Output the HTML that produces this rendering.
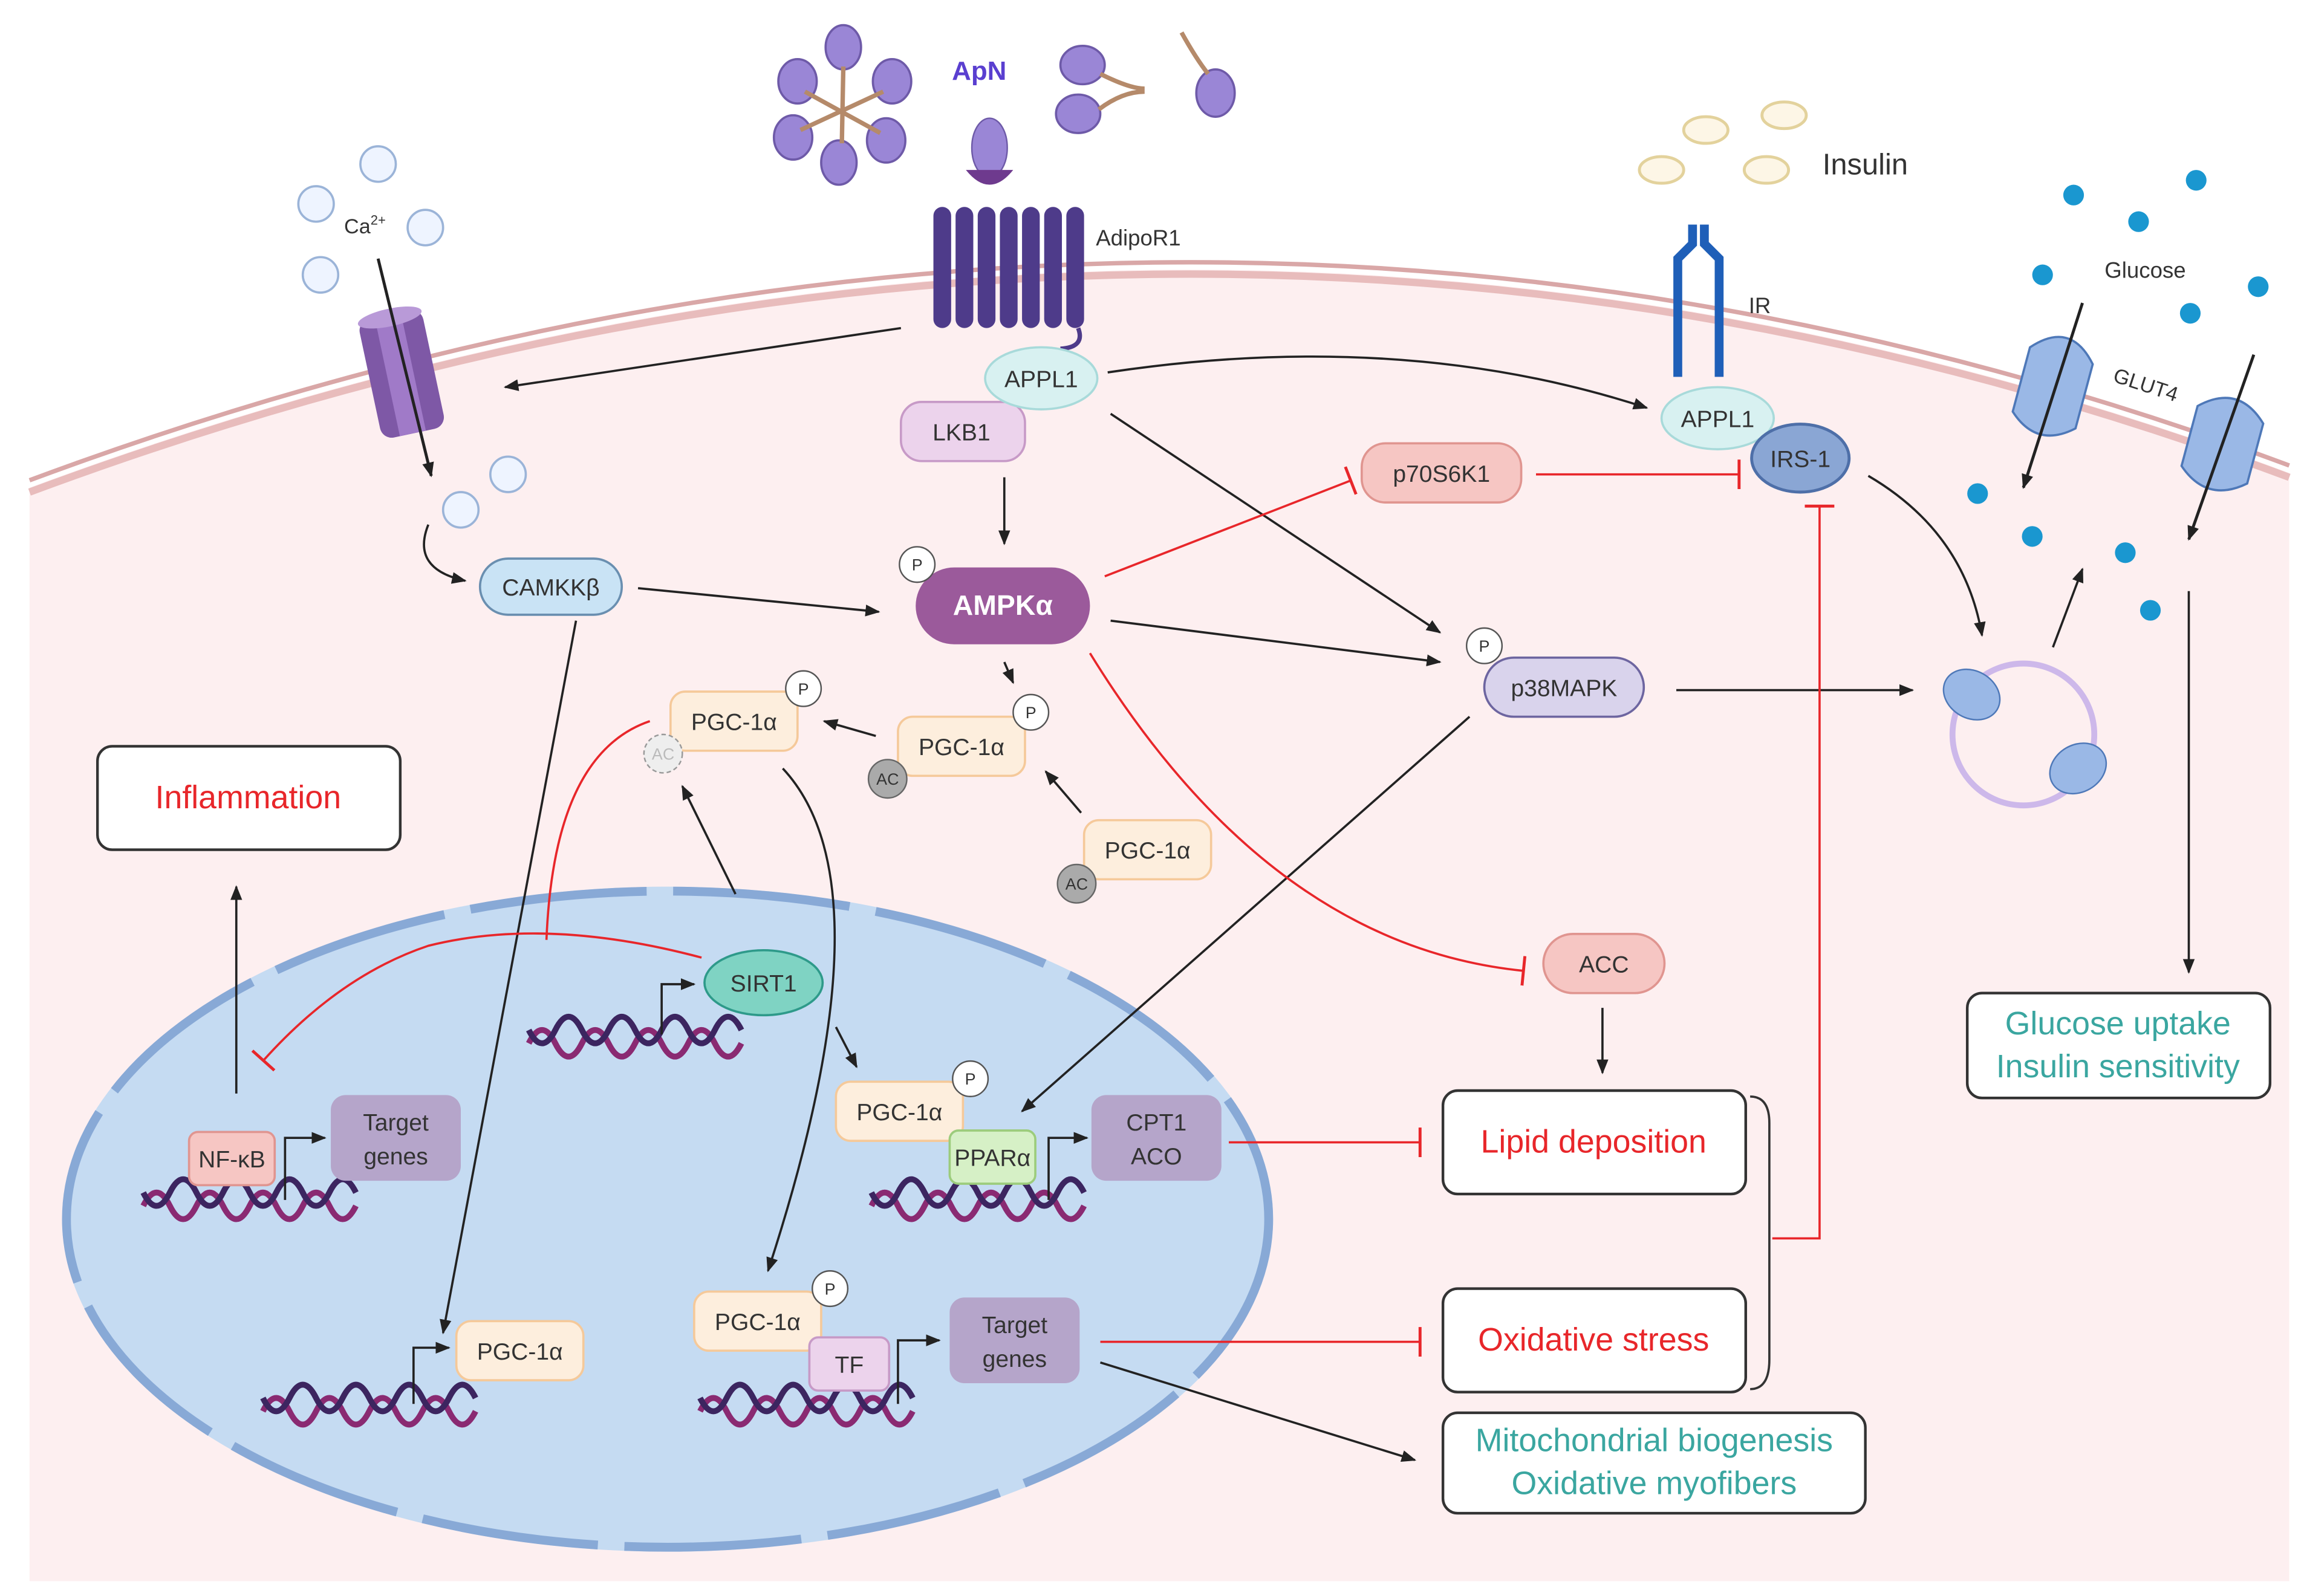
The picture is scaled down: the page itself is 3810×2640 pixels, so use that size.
<!DOCTYPE html>
<html><head><meta charset="utf-8"><style>
html,body{margin:0;padding:0;background:#fff}
svg{display:block}
text{font-family:"Liberation Sans",sans-serif}
</style></head><body>
<svg width="3810" height="2640" viewBox="0 0 1560 1080" preserveAspectRatio="none" xmlns="http://www.w3.org/2000/svg">
<defs>
<marker id="ar" markerWidth="10" markerHeight="10" refX="9" refY="5" orient="auto" markerUnits="userSpaceOnUse"><path d="M0,1 L10,5 L0,9 Z" fill="#222"/></marker>
<marker id="tb" markerWidth="4" markerHeight="20" refX="2" refY="10" orient="auto" markerUnits="userSpaceOnUse"><rect x="0.5" y="0" width="2" height="20" fill="#e8262a"/></marker>
<g id="dna"><path d="M0,0 q9,-18 18,0 t18,0 t18,0 t18,0 t18,0 t18,0 t18,0 t18,0" fill="none" stroke="#8a2a72" stroke-width="4"/><path d="M0,-9 q9,18 18,0 t18,0 t18,0 t18,0 t18,0 t18,0 t18,0 t18,0" fill="none" stroke="#3c2560" stroke-width="4"/></g>
</defs>
<!-- cell -->
<path d="M20,330 Q800,40 1550,320 L1550,1070 L20,1070 Z" fill="#fdeff0"/>
<path d="M20,325 Q800,35 1550,315" fill="none" stroke="#d9a7a7" stroke-width="3"/>
<path d="M20,333 Q800,43 1550,323" fill="none" stroke="#e8bcbc" stroke-width="5"/>
<!-- nucleus -->
<ellipse cx="452" cy="825" rx="410" ry="225" fill="#c5dbf2"/>
<ellipse cx="452" cy="825" rx="407" ry="222" fill="none" stroke="#88a9d6" stroke-width="6" stroke-dasharray="120,18"/>
<!-- ApN -->
<g fill="#9a86d6" stroke="#6e5aa8" stroke-width="1.5">
<ellipse cx="571" cy="32" rx="12" ry="15"/><ellipse cx="540" cy="55" rx="13" ry="15"/><ellipse cx="604" cy="55" rx="13" ry="15"/>
<ellipse cx="537" cy="93" rx="13" ry="15"/><ellipse cx="600" cy="95" rx="13" ry="15"/><ellipse cx="568" cy="110" rx="12" ry="15"/>
<ellipse cx="733" cy="44" rx="15" ry="13"/><ellipse cx="730" cy="77" rx="15" ry="13"/><ellipse cx="823" cy="63" rx="13" ry="16"/>
</g>
<path d="M571,45 L570,97 M545,62 L596,90 M598,62 L542,88 M745,50 Q765,60 775,60 M744,74 Q760,62 775,62 M800,22 Q810,40 818,50" stroke="#b58a6a" stroke-width="3" fill="none"/>
<text x="663" y="54" font-size="18" font-weight="bold" fill="#5a3fd0" text-anchor="middle">ApN</text>
<!-- AdipoR1 -->
<ellipse cx="670" cy="100" rx="12" ry="20" fill="#9a86d6" stroke="#6e5aa8"/>
<path d="M654,115 Q670,135 686,115" fill="#6e3a8e"/>
<g fill="#4e3b8a">
<rect x="632" y="140" width="12" height="82" rx="6"/><rect x="647" y="140" width="12" height="82" rx="6"/><rect x="662" y="140" width="12" height="82" rx="6"/><rect x="677" y="140" width="12" height="82" rx="6"/><rect x="692" y="140" width="12" height="82" rx="6"/><rect x="707" y="140" width="12" height="82" rx="6"/><rect x="722" y="140" width="12" height="82" rx="6"/>
</g>
<path d="M730,222 Q735,235 718,236" stroke="#4e3b8a" stroke-width="3" fill="none"/>
<text x="742" y="166" font-size="15" fill="#333">AdipoR1</text>
<!-- Ca -->
<g fill="#eef4ff" stroke="#9bb4d8" stroke-width="1.5">
<circle cx="256" cy="111" r="12"/><circle cx="214" cy="138" r="12"/><circle cx="288" cy="154" r="12"/><circle cx="217" cy="186" r="12"/><circle cx="344" cy="321" r="12"/><circle cx="312" cy="345" r="12"/>
</g>
<text x="233" y="158" font-size="14" fill="#333">Ca<tspan font-size="9" dy="-6">2+</tspan></text>
<g transform="rotate(-12 272 253)"><rect x="250" y="212" width="44" height="82" rx="8" fill="#7e58a6"/><rect x="262" y="212" width="18" height="82" fill="#a07ac8"/><ellipse cx="272" cy="214" rx="22" ry="6" fill="#b99ad8"/></g>
<path d="M256,175 L292,322" stroke="#222" stroke-width="2" marker-end="url(#ar)"/>
<path d="M290,355 Q278,385 315,393" stroke="#222" stroke-width="1.5" fill="none" marker-end="url(#ar)"/>
<!-- Insulin -->
<g fill="#fdf6e6" stroke="#e3d29c" stroke-width="2">
<ellipse cx="1155" cy="88" rx="15" ry="9"/><ellipse cx="1208" cy="78" rx="15" ry="9"/><ellipse cx="1125" cy="115" rx="15" ry="9"/><ellipse cx="1196" cy="115" rx="15" ry="9"/>
</g>
<text x="1234" y="118" font-size="20" fill="#333">Insulin</text>
<!-- IR -->
<path d="M1136,255 L1136,175 L1146,165 L1146,152 M1164,255 L1164,175 L1154,165 L1154,152" stroke="#1f5fb8" stroke-width="6" fill="none"/>
<text x="1184" y="212" font-size="15" fill="#333">IR</text>
<!-- Glucose -->
<g fill="#1a97d0"><circle cx="1404" cy="132" r="7"/><circle cx="1487" cy="122" r="7"/><circle cx="1448" cy="150" r="7"/><circle cx="1383" cy="186" r="7"/><circle cx="1529" cy="194" r="7"/><circle cx="1483" cy="212" r="7"/><circle cx="1339" cy="334" r="7"/><circle cx="1376" cy="363" r="7"/><circle cx="1439" cy="374" r="7"/><circle cx="1456" cy="413" r="7"/></g>
<text x="1425" y="188" font-size="15" fill="#333">Glucose</text>
<text x="1430" y="258" font-size="14" fill="#333" transform="rotate(18 1430 258)">GLUT4</text>
<g fill="#9ab8e6" stroke="#4e78b8" stroke-width="1.5">
<path d="M1368,240 Q1390,215 1412,240 L1412,285 Q1390,305 1368,285 Z" transform="rotate(15 1390 262)"/>
<path d="M1482,280 Q1505,258 1528,280 L1528,322 Q1505,342 1482,322 Z" transform="rotate(15 1505 300)"/>
</g>
<path d="M1410,205 L1370,330" stroke="#222" stroke-width="2" marker-end="url(#ar)"/>
<path d="M1526,240 L1482,365" stroke="#222" stroke-width="2" marker-end="url(#ar)"/>
<!-- vesicle -->
<circle cx="1370" cy="497" r="48" fill="none" stroke="#cdb8ea" stroke-width="4"/>
<g fill="#9ab8e6" stroke="#4e78b8"><ellipse cx="1335" cy="470" rx="20" ry="16" transform="rotate(30 1335 470)"/><ellipse cx="1407" cy="520" rx="20" ry="16" transform="rotate(-30 1407 520)"/></g>
<!-- arrows black -->
<g stroke="#222" stroke-width="1.5" fill="none" marker-end="url(#ar)">
<path d="M610,222 L342,262"/>
<path d="M750,252 Q950,222 1115,276"/>
<path d="M680,323 L680,368"/>
<path d="M432,398 L595,414"/>
<path d="M752,280 L975,428"/>
<path d="M752,420 L975,448"/>
<path d="M390,420 L300,902"/>
<path d="M1135,467 L1295,467"/>
<path d="M1265,322 Q1330,360 1342,430"/>
<path d="M1390,438 L1410,385"/>
<path d="M1482,400 L1482,658"/>
<path d="M680,448 L686,462"/>
<path d="M593,498 L558,488"/>
<path d="M732,550 L708,522"/>
<path d="M498,605 L462,532"/>
<path d="M530,520 Q605,600 520,860"/>
<path d="M566,695 L580,722"/>
<path d="M995,485 L692,752"/>
<path d="M1085,682 L1085,726"/>
<path d="M160,740 L160,600"/>
<path d="M745,922 L958,988"/>
</g>
<!-- red inhibit -->
<g stroke="#e8262a" stroke-width="1.5" fill="none" marker-end="url(#tb)">
<path d="M748,390 L915,325"/>
<path d="M1040,321 L1178,321"/>
<path d="M738,442 Q860,640 1032,657"/>
<path d="M832,773 L962,773"/>
<path d="M745,908 L962,908"/>
<path d="M1200,838 L1232,838 L1232,342"/>
<path d="M475,648 Q370,620 290,640 Q230,660 178,718"/>
</g>
<path d="M370,636 Q375,510 440,488" stroke="#e8262a" stroke-width="1.5" fill="none"/>
<path d="M1185,742 Q1198,742 1198,760 L1198,920 Q1198,940 1185,940" stroke="#333" stroke-width="1.5" fill="none"/>
<!-- DNA -->
<use href="#dna" transform="translate(358,706)"/>
<use href="#dna" transform="translate(97,816)"/>
<use href="#dna" transform="translate(590,816)"/>
<use href="#dna" transform="translate(178,955)"/>
<use href="#dna" transform="translate(474,955)"/>
<g stroke="#222" stroke-width="1.5" fill="none" marker-end="url(#ar)">
<path d="M448,700 L448,666 L470,666"/><path d="M193,812 L193,770 L220,770"/><path d="M710,812 L710,770 L736,770"/><path d="M280,950 L280,912 L304,912"/><path d="M608,950 L608,907 L636,907"/>
</g>
<!-- nodes -->
<g font-size="16" fill="#333" text-anchor="middle">
<rect x="325" y="378" width="96" height="38" rx="19" fill="#c9e3f5" stroke="#6a8fb0" stroke-width="1.5"/><text x="373" y="403">CAMKKβ</text>
<rect x="610" y="272" width="84" height="40" rx="14" fill="#ecd3ec" stroke="#c79ac7" stroke-width="1.5"/><text x="651" y="298">LKB1</text>
<ellipse cx="705" cy="256" rx="38" ry="21" fill="#d8f1f1" stroke="#a8dada" stroke-width="1.5"/><text x="705" y="262">APPL1</text>
<rect x="620" y="384" width="118" height="52" rx="26" fill="#9b5a9b"/><text x="679" y="416" fill="#fff" font-weight="bold" font-size="19">AMPKα</text>
<rect x="922" y="300" width="108" height="40" rx="16" fill="#f6c6c3" stroke="#e09590" stroke-width="1.5"/><text x="976" y="326">p70S6K1</text>
<ellipse cx="1163" cy="283" rx="38" ry="21" fill="#d8f1f1" stroke="#a8dada" stroke-width="1.5"/><text x="1163" y="289">APPL1</text>
<ellipse cx="1219" cy="310" rx="33" ry="23" fill="#8aa6d4" stroke="#4e6fa8" stroke-width="2"/><text x="1219" y="316">IRS-1</text>
<rect x="1005" y="445" width="108" height="40" rx="20" fill="#d9d3ec" stroke="#6d65a0" stroke-width="1.5"/><text x="1059" y="471">p38MAPK</text>
<rect x="1045" y="632" width="82" height="40" rx="20" fill="#f6c6c3" stroke="#e09590" stroke-width="1.5"/><text x="1086" y="658">ACC</text>
<ellipse cx="517" cy="665" rx="40" ry="22" fill="#7fd3c3" stroke="#2e9a8a" stroke-width="1.5"/><text x="517" y="671">SIRT1</text>
<g fill="#fdeedd" stroke="#f5c99a" stroke-width="1.5">
<rect x="454" y="468" width="86" height="40" rx="10"/><rect x="608" y="485" width="86" height="40" rx="10"/><rect x="734" y="555" width="86" height="40" rx="10"/><rect x="566" y="732" width="86" height="40" rx="10"/><rect x="470" y="874" width="86" height="40" rx="10"/><rect x="309" y="894" width="86" height="40" rx="10"/>
</g>
<text x="497" y="494">PGC-1α</text><text x="651" y="511">PGC-1α</text><text x="777" y="581">PGC-1α</text><text x="609" y="758">PGC-1α</text><text x="513" y="900">PGC-1α</text><text x="352" y="920">PGC-1α</text>
<rect x="643" y="765" width="58" height="36" rx="6" fill="#d6f0c6" stroke="#9ccc7c" stroke-width="1.5"/><text x="672" y="789">PPARα</text>
<rect x="548" y="905" width="54" height="36" rx="6" fill="#ecd3ec" stroke="#c79ac7" stroke-width="1.5"/><text x="575" y="929">TF</text>
<rect x="128" y="766" width="58" height="36" rx="6" fill="#f6c6c3" stroke="#e09590" stroke-width="1.5"/><text x="157" y="790">NF-κB</text>
<g fill="#b5a5ca"><rect x="224" y="741" width="88" height="58" rx="10"/><rect x="739" y="741" width="88" height="58" rx="10"/><rect x="643" y="878" width="88" height="58" rx="10"/></g>
<text x="268" y="765">Target</text><text x="268" y="788">genes</text>
<text x="783" y="765">CPT1</text><text x="783" y="788">ACO</text>
<text x="687" y="902">Target</text><text x="687" y="925">genes</text>
</g>
<!-- P circles -->
<g font-size="11" fill="#333" text-anchor="middle">
<g fill="#fff" stroke="#555"><circle cx="621" cy="382" r="12"/><circle cx="544" cy="466" r="12"/><circle cx="698" cy="482" r="12"/><circle cx="1005" cy="437" r="12"/><circle cx="657" cy="730" r="12"/><circle cx="562" cy="872" r="12"/></g>
<text x="621" y="386">P</text><text x="544" y="470">P</text><text x="698" y="486">P</text><text x="1005" y="441">P</text><text x="657" y="734">P</text><text x="562" y="876">P</text>
<g fill="#aaa" stroke="#666"><circle cx="601" cy="527" r="13"/><circle cx="729" cy="598" r="13"/></g>
<circle cx="449" cy="510" r="13" fill="#eee" stroke="#999" stroke-dasharray="3,2"/>
<text x="601" y="531">AC</text><text x="729" y="602">AC</text><text x="449" y="514" fill="#bbb">AC</text>
</g>
<!-- outcome boxes -->
<g fill="#fff" stroke="#333" stroke-width="1.8">
<rect x="66" y="505" width="205" height="70" rx="10"/><rect x="977" y="738" width="205" height="70" rx="10"/><rect x="977" y="872" width="205" height="70" rx="10"/><rect x="977" y="956" width="286" height="68" rx="10"/><rect x="1332" y="672" width="205" height="71" rx="10"/>
</g>
<g font-size="22" text-anchor="middle">
<text x="168" y="547" fill="#e8262a">Inflammation</text>
<text x="1079" y="780" fill="#e8262a">Lipid deposition</text>
<text x="1079" y="914" fill="#e8262a">Oxidative stress</text>
<text x="1120" y="982" fill="#3aa6a0">Mitochondrial biogenesis</text>
<text x="1120" y="1011" fill="#3aa6a0">Oxidative myofibers</text>
<text x="1434" y="700" fill="#3aa6a0">Glucose uptake</text>
<text x="1434" y="729" fill="#3aa6a0">Insulin sensitivity</text>
</g>
</svg>
</body></html>
